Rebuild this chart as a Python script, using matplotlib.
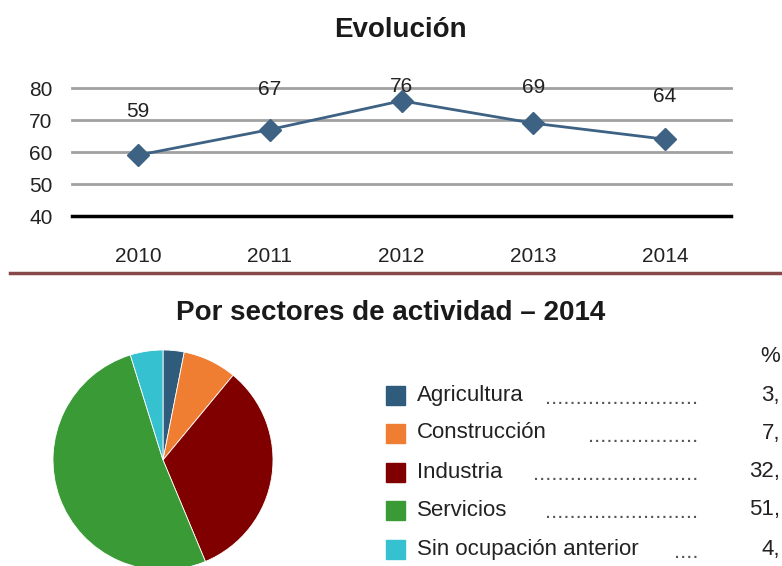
import matplotlib.pyplot as plt
from matplotlib.lines import Line2D

plt.rcParams['font.family'] = ['Liberation Sans', 'DejaVu Sans']

# Evolución
years = ['2010', '2011', '2012', '2013', '2014']
values = [59, 67, 76, 69, 64]
label_offsets = [44, 40, 14, 36, 43]  # px above the marker, as placed in the source

# Por sectores de actividad - 2014
sectors = ['Agricultura', 'Construcción', 'Industria', 'Servicios', 'Sin ocupación anterior']
shares = [3.1, 7.9, 32.7, 51.5, 4.8]
# the source image is cut at the right edge, only the integer part shows
share_labels = ['3,', '7,', '32,', '51,', '4,']
n_dots = [25, 18, 27, 25, 4]
colors = ['#2f5b7c', '#ef7d32', '#800000', '#3a9a35', '#35c1cf']

W, H = 782, 566
fig = plt.figure(figsize=(W / 100, H / 100), dpi=100)
fig.patch.set_facecolor('white')

# line chart
ax = fig.add_axes([72 / W, 1 - 216 / H, 659 / W, 128 / H])
x = list(range(len(years)))
ax.plot(x, values, color='#3e6283', lw=2, marker='D', ms=11, zorder=3)
for xi, v, off in zip(x, values, label_offsets):
    ax.annotate(str(v), (xi, v), xytext=(0, off * 0.72), textcoords='offset points',
                ha='center', va='center', fontsize=15, color='#222222', zorder=4)
ax.set_xlim(-0.5, 4.5)
ax.set_ylim(40, 80)
ax.set_yticks([40, 50, 60, 70, 80])
for g in [50, 60, 70, 80]:
    ax.axhline(g, color='#a0a0a0', lw=2, zorder=1, clip_on=False)
ax.axhline(40, color='black', lw=2.5, zorder=2, clip_on=False)
ax.set_xticks(x)
ax.set_xticklabels(years)
ax.tick_params(axis='both', length=0, labelsize=15, colors='#222222')
ax.tick_params(axis='x', pad=22)
ax.tick_params(axis='y', pad=14)
for s in ax.spines.values():
    s.set_visible(False)
ax.set_facecolor('none')

fig.text(400 / W, 1 - 30 / H, 'Evolución', ha='center', va='center',
         fontsize=20, fontweight='bold', color='#1a1a1a')

# separator
fig.add_artist(Line2D([10 / W, 1], [1 - 273 / H, 1 - 273 / H], color='#864848', lw=2.5))

fig.text(391 / W, 1 - 313 / H, 'Por sectores de actividad – 2014', ha='center', va='center',
         fontsize=20, fontweight='bold', color='#1a1a1a')

# pie
pax = fig.add_axes([53 / W, 1 - 570 / H, 220 / W, 220 / H])
pax.pie(shares, colors=colors, startangle=90, counterclock=False, radius=1,
        wedgeprops=dict(edgecolor='white', linewidth=0.6))
pax.set_xlim(-1, 1)
pax.set_ylim(-1, 1)
pax.set_aspect('equal')
pax.axis('off')

# legend table
row_y = [395, 433, 472, 510, 549]
for name, col, lab, nd, yy in zip(sectors, colors, share_labels, n_dots, row_y):
    fy = 1 - yy / H
    fig.patches.append(plt.Rectangle((386 / W, 1 - (yy + 9.5) / H), 19 / W, 19 / H,
                                     color=col, transform=fig.transFigure, figure=fig))
    fig.text(417 / W, fy, name, ha='left', va='center', fontsize=16, color='#222222')
    fig.text(698 / W, fy - 3 / H, '.' * nd, ha='right', va='center', fontsize=16, color='#555555')
    fig.text(780 / W, fy, lab, ha='right', va='center', fontsize=16, color='#222222')
fig.text(780 / W, 1 - 357 / H, '%', ha='right', va='center', fontsize=16, color='#222222')

fig.savefig('out.png', dpi=100)
